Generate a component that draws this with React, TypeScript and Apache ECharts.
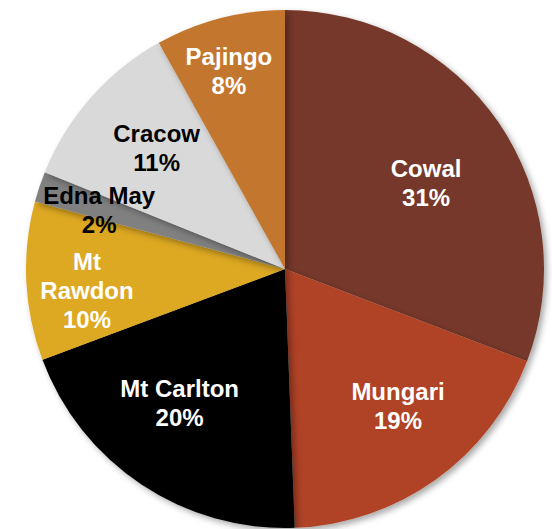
import React, { useEffect, useRef } from "react";
import * as echarts from "echarts";

const categories = ["Cowal", "Mungari", "Mt Carlton", "Mt Rawdon", "Edna May", "Cracow", "Pajingo"];
const values = [30.8, 18.6, 19.9, 9.9, 1.9, 10.8, 8.1];
const colors = ["#743829", "#B04325", "#000000", "#DDA823", "#808080", "#D9D9D9", "#C3762D"];
const labelColors = ["#FFFFFF", "#FFFFFF", "#FFFFFF", "#FFFFFF", "#000000", "#000000", "#FFFFFF"];
// label placement: fraction of radius and angular offset (degrees) from slice middle
const labelRadiusFactor = [0.638, 0.687, 0.657, 0.769, 0.753, 0.681, 0.796];
const labelAngleOffset = [3.2, -3.8, 4.6, -3.4, -0.9, 1.9, -1.2];

const CX = 285;
const CY = 269;
const R = 259;

export default function App() {
  const ref = useRef<HTMLDivElement>(null);
  useEffect(() => {
    if (!ref.current) return;
    const chart = echarts.init(ref.current, null, { renderer: "svg" });
    const total = values.reduce((a, b) => a + b, 0);
    const mids: number[] = [];
    let acc = 0;
    values.forEach((v) => {
      mids.push(((acc + v / 2) / total) * 360);
      acc += v;
    });
    chart.setOption({
      animation: false,
      series: [
        {
          type: "pie",
          center: [CX, CY],
          radius: [0, R],
          startAngle: 90,
          clockwise: true,
          data: categories.map((name, i) => ({
            name,
            value: values[i],
            itemStyle: { color: colors[i] },
            label: { color: labelColors[i] },
          })),
          itemStyle: {
            shadowBlur: 6,
            shadowOffsetX: 3,
            shadowOffsetY: 3,
            shadowColor: "rgba(0,0,0,0.35)",
          },
          label: {
            show: true,
            position: "inside",
            fontFamily: "Liberation Sans, Arial, sans-serif",
            fontWeight: "bold",
            fontSize: 24,
            lineHeight: 29,
            align: "center",
            verticalAlign: "middle",
            formatter: (p: any) => {
              const name = p.name === "Mt Rawdon" ? "Mt\nRawdon" : p.name;
              return name + "\n" + Math.round(p.value) + "%";
            },
          },
          labelLine: { show: false },
          labelLayout: (p: any) => {
            const i = p.dataIndex;
            const a = ((mids[i] + labelAngleOffset[i]) * Math.PI) / 180;
            const r = R * labelRadiusFactor[i];
            return { x: CX + r * Math.sin(a), y: CY - r * Math.cos(a) };
          },
        },
      ],
    });
    return () => chart.dispose();
  }, []);
  return (
    <div
      ref={ref}
      style={{ position: "fixed", left: 0, top: 0, width: 552, height: 529, background: "#fff" }}
    />
  );
}
